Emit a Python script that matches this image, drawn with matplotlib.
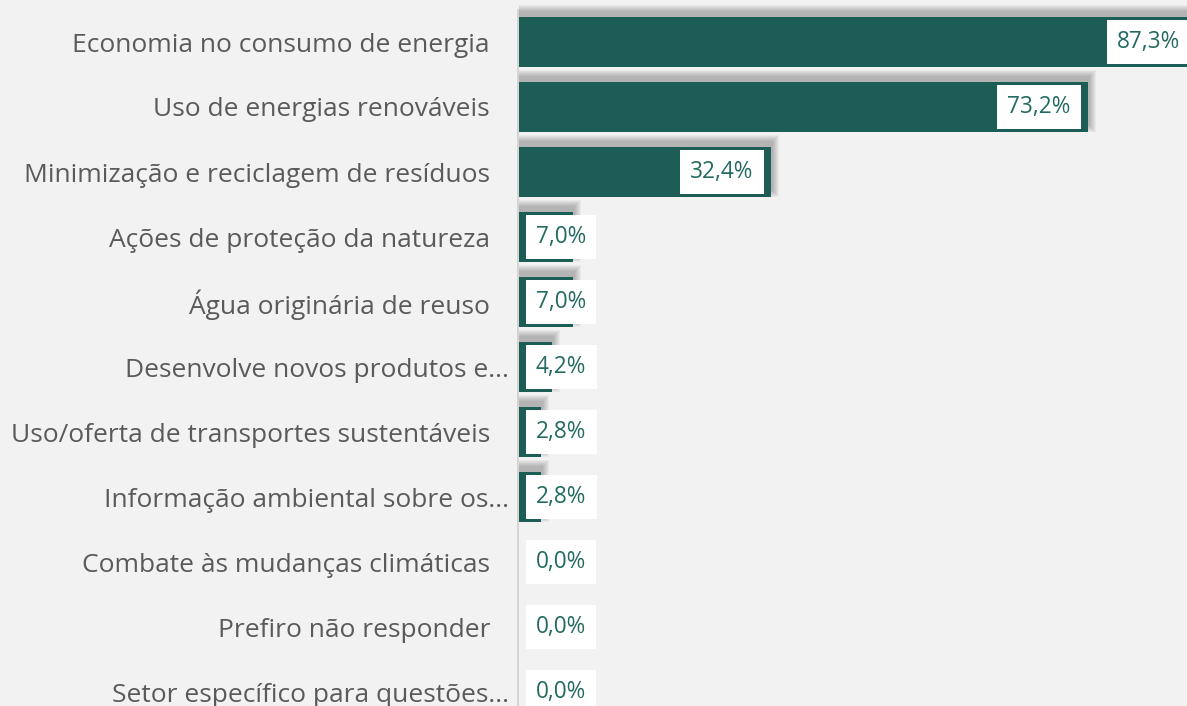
import numpy as np
import matplotlib.pyplot as plt
from matplotlib.patches import Rectangle

categories = [
    "Economia no consumo de energia",
    "Uso de energias renováveis",
    "Minimização e reciclagem de resíduos",
    "Ações de proteção da natureza",
    "Água originária de reuso",
    "Desenvolve novos produtos e...",
    "Uso/oferta de transportes sustentáveis",
    "Informação ambiental sobre os...",
    "Combate às mudanças climáticas",
    "Prefiro não responder",
    "Setor específico para questões...",
]
values = [87.3, 73.2, 32.4, 7.0, 7.0, 4.2, 2.8, 2.8, 0.0, 0.0, 0.0]

BAR = "#1C5E55"
TXT = "#236B60"
BG = "#F2F2F2"
LBL = "#5A5A5A"

W, H = 1187, 706
fig = plt.figure(figsize=(W / 100, H / 100), dpi=100, facecolor=BG)
x_ax = 517           # axes left edge in pixels
x0 = 519             # where the bars start
ax = fig.add_axes([x_ax / W, 0, 1 - x_ax / W, 1])
ax.set_facecolor(BG)

px_x = 7.77          # pixels per percent
px_y = 65.0          # pixels per row
ax.set_xlim(-(x0 - x_ax) / px_x, (W - x0) / px_x)
ax.set_ylim((H - 42) / px_y, -42 / px_y)

y = np.arange(len(categories))
bar_h = 0.76

# soft shadow: bar shifted up/right, blurred by stacking expanded rects
sx, sy = 2 / px_x, 6 / px_y
for k in range(0, 7):
    ex, ey = k / px_x, k / px_y
    for yi, v in zip(y, values):
        if v <= 0:
            continue
        ax.add_patch(Rectangle((0, yi - bar_h / 2 - sy - ey),
                               v + sx + ex, bar_h + 2 * ey,
                               color="black", alpha=0.04, lw=0, zorder=1))

ax.barh(y, values, height=bar_h, color=BAR, zorder=2)

# axis line
ax.plot([-1 / px_x, -1 / px_x], [1 - 10 / H, 0], transform=ax.get_xaxis_transform(),
        color="#D4D4D4", lw=1.44, zorder=3)

for s in ax.spines.values():
    s.set_visible(False)
ax.set_xticks([])
ax.set_yticks([])

font = "Open Sans"
ytrans = ax.get_yaxis_transform()
for yi, name in zip(y, categories):
    off = -8 if name.endswith("...") else -27
    ax.annotate(name, xy=(0, yi), xycoords=ytrans, xytext=(off, 0),
                textcoords="offset pixels", ha="right", va="center_baseline",
                fontsize=19, color=LBL, family=font, annotation_clip=False)

fig.canvas.draw()
renderer = fig.canvas.get_renderer()
box = dict(boxstyle="square,pad=0.45", fc="white", ec="none")
for yi, v in zip(y, values):
    lab = f"{v:.1f}%".replace(".", ",")
    t = ax.annotate(lab, xy=(v, yi), xytext=(-17, 0), textcoords="offset pixels",
                    ha="right", va="center", fontsize=16.3, color=TXT, family=font,
                    bbox=box, zorder=5, annotation_clip=False)
    fig.canvas.draw()
    bb = t.get_bbox_patch().get_window_extent(renderer)
    if bb.x0 < x0 + 7:
        t.remove()
        ax.annotate(lab, xy=(0, yi), xytext=(17, 0), textcoords="offset pixels",
                    ha="left", va="center", fontsize=16.3, color=TXT, family=font,
                    bbox=box, zorder=5, annotation_clip=False)

fig.savefig("out.png", dpi=100, facecolor=BG)
